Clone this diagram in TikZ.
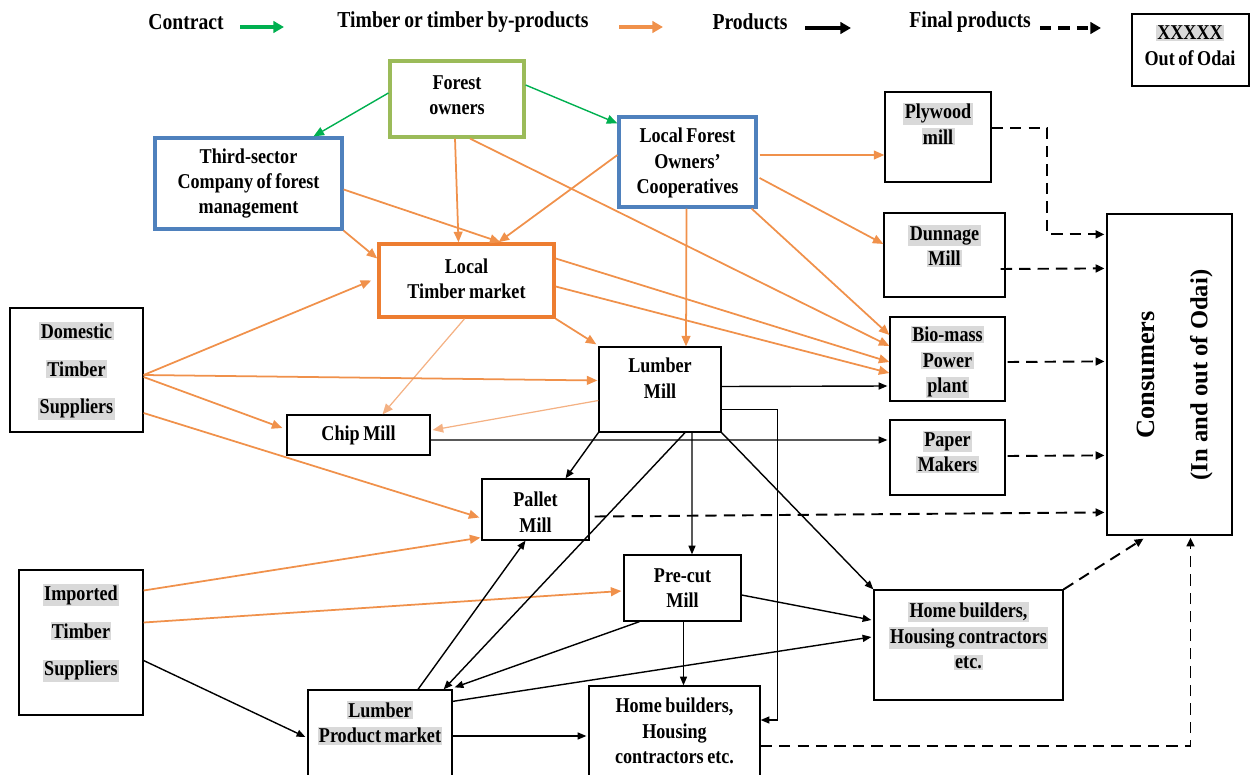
\documentclass[tikz,border=0pt]{standalone}
\usepackage{fontspec}
\setmainfont{Liberation Serif}[FakeStretch=0.86,WordSpace=0.8]
\newfontfamily\widefont{Liberation Serif}
\usetikzlibrary{arrows.meta,calc,fit,positioning}

\definecolor{cgreen}{RGB}{0,176,80}
\definecolor{cfgreen}{RGB}{155,187,89}
\definecolor{cblue}{RGB}{79,129,189}
\definecolor{ctimber}{RGB}{237,125,49}
\definecolor{corange}{RGB}{240,145,75}
\definecolor{corangelt}{RGB}{244,177,131}
\definecolor{hlgray}{RGB}{217,217,217}

\newcommand\graybg[1]{{\setlength{\fboxsep}{0.8pt}\colorbox{hlgray}{#1}}}
\newcommand\nodefont{\fontsize{12}{14.5}\selectfont\bfseries}
\newcommand\legfont{\fontsize{13}{15}\selectfont\bfseries}

\tikzset{
  box/.style={draw, line width=0.7pt, inner sep=0pt},
  txt/.style={align=center, font=\nodefont, inner sep=0pt},
  legend/.style={font=\legfont, inner sep=0pt},
  contract/.style={draw=cgreen, line width=0.8pt, -{Triangle[length=6pt,width=5pt]}},
  timber/.style={draw=corange, line width=1pt, -{Triangle[length=6pt,width=5pt]}},
  timberthin/.style={draw=corangelt, line width=0.7pt, -{Triangle[length=6pt,width=5pt]}},
  product/.style={line width=0.8pt, -{Triangle[length=5pt,width=4pt]}},
  final/.style={line width=1.1pt, dash pattern=on 6.5pt off 4pt, -{Triangle[length=5pt,width=4.5pt]}},
  legarrow/.style={line width=2pt, -{Triangle[length=6pt,width=6.5pt]}},
}

\begin{document}
\begin{tikzpicture}[x=0.02cm, y=-0.02cm]
\useasboundingbox (0,0) rectangle (1250,774);

% legend
\node[legend] (lgcon) at (186,22) {Contract};
\node[legend] (lgtim) at (463,22) {Timber or timber by-products};
\node[legend] (lgpro) at (750,22) {Products};
\node[legend] (lgfin) at (970,22) {Final products};
\coordinate (lgc1) at (240,27); \coordinate (lgc2) at (284,27);
\coordinate (lgt1) at (619,27); \coordinate (lgt2) at (663,27);
\coordinate (lgp1) at (805,28); \coordinate (lgp2) at (851,28);
\coordinate (lgf1) at (1040,28); \coordinate (lgf2) at (1101,28);
\draw[contract, legarrow] (lgc1) -- (lgc2);
\draw[timber, legarrow] (lgt1) -- (lgt2);
\draw[product, legarrow] (lgp1) -- (lgp2);
\draw[final, legarrow] (lgf1) -- (lgf2);
\node[box, fit={(1132,14)(1249,86)}] (key) {};
\node[txt] (keyt) at (1190,45) {\graybg{XXXXX}\\Out of Odai};

% boxes
\node[box, draw=cfgreen, line width=1.8pt, fit={(390,61)(524,137)}] (fown) {};
\node[txt] (fownt) at (457,95) {Forest\\owners};
\node[box, draw=cblue, line width=1.8pt, fit={(155,138)(342,229)}] (third) {};
\node[txt] (thirdt) at (248.5,183.5) {Third-sector\\Company of forest\\management};
\node[box, draw=cblue, line width=1.8pt, fit={(619,117)(756,207)}] (coop) {};
\node[txt] (coopt) at (687.5,163) {Local Forest\\Owners’\\Cooperatives};
\node[box, draw=ctimber, line width=2pt, fit={(379,244)(554,317)}] (ltm) {};
\node[txt] (ltmt) at (466.5,279) {Local\\Timber market};
\node[box, fit={(885,92)(991,182)}] (ply) {};
\node[txt] (plyt) at (938,124) {\graybg{Plywood}\\\graybg{mill}};
\node[box, fit={(884,213)(1005,297)}] (dun) {};
\node[txt] (dunt) at (944.5,246) {\graybg{Dunnage}\\\graybg{Mill}};
\node[box, fit={(890,317)(1005,401)}] (bio) {};
\node[txt] (biot) at (947.5,362) {\graybg{Bio-mass}\\\graybg{Power}\\\graybg{plant}};
\node[box, fit={(890,420)(1005,495)}] (paper) {};
\node[txt] (papert) at (947.5,452) {\graybg{Paper}\\\graybg{Makers}};
\node[box, fit={(1107,214)(1232,535)}] (cons) {};
\node[rotate=90, align=center, inner sep=0pt, font=\widefont\fontsize{14}{16}\selectfont\bfseries] (const) at (1175,375) {{\fontsize{15}{16}\selectfont Consumers}\\[14pt](In and out of Odai)};
\node[box, fit={(10,308)(143,432)}] (dom) {};
\node[txt] (domt) at (76.5,371) {\graybg{Domestic}\\[7pt]\graybg{Timber}\\[7pt]\graybg{Suppliers}};
\node[box, fit={(287,415)(430,455)}] (chip) {};
\node[txt] (chipt) at (358.5,435) {Chip Mill};
\node[box, fit={(599,347)(721,432)}] (lmill) {};
\node[txt] (lmillt) at (660,378) {Lumber\\Mill};
\node[box, fit={(482,479)(589,540)}] (pallet) {};
\node[txt] (pallett) at (535.5,512) {Pallet\\Mill};
\node[box, fit={(624,555)(741,621)}] (precut) {};
\node[txt] (precutt) at (682.5,588) {Pre-cut\\Mill};
\node[box, fit={(874,590)(1063,700)}] (hbr) {};
\node[txt] (hbrt) at (968.5,636) {\graybg{Home builders,}\\\graybg{Housing contractors}\\\graybg{etc.}};
\node[box, fit={(19,570)(143,715)}] (imp) {};
\node[txt] (impt) at (81,633) {\graybg{Imported}\\[7pt]\graybg{Timber}\\[7pt]\graybg{Suppliers}};
\node[box, fit={(308,690)(452,780)}] (lpm) {};
\node[txt] (lpmt) at (380,723) {\graybg{Lumber}\\\graybg{Product market}};
\node[box, fit={(589,686)(760,780)}] (hbb) {};
\node[txt] (hbbt) at (674.5,731) {Home builders,\\Housing\\contractors etc.};

% contracts
\draw[contract] ($(fown.west)+(0,-6)$) -- ($(third.north)+(65,0)$);
\draw[contract] ($(fown.east)+(0,-14)$) -- ($(coop.north west)+(0,8)$);

% timber
\draw[timber] ($(fown.south)+(-2,0)$) -- ($(ltm.north)+(-8,0)$);
\draw[timber] ($(fown.south)+(13,0)$) -- ($(bio.west)+(0,-13)$);
\draw[timber] ($(third.east)+(0,6)$) -- ($(ltm.north)+(34,0)$);
\draw[timber] (third.south east) -- ($(ltm.west)+(0,-22)$);
\draw[timber] ($(coop.west)+(0,-7)$) -- ($(ltm.north)+(32,0)$);
\draw[timber] ($(coop.south)+(-1,0)$) -- ($(lmill.north)+(26,0)$);
\draw[timber] ($(coop.east)+(2,-7)$) -- ($(ply.west)+(0,18)$);
\draw[timber] ($(coop.east)+(2,16)$) -- ($(dun.west)+(0,-11)$);
\draw[timber] ($(coop.south east)+(-6,0)$) -- ($(bio.west)+(0,-24)$);
\draw[timber] ($(ltm.east)+(0,-22)$) -- ($(bio.west)+(0,3)$);
\draw[timber] ($(ltm.east)+(0,6)$) -- ($(bio.west)+(0,14)$);
\draw[timber] (ltm.south east) -- ($(lmill.north west)+(-2,-2)$);
\draw[timberthin] ($(ltm.south)+(-2,0)$) -- ($(chip.north)+(24,0)$);
\draw[timberthin] ($(lmill.west)+(0,11)$) -- ($(chip.east)+(2,-5)$);
\draw[timber] ($(dom.east)+(0,5)$) -- ($(ltm.west)+(-6,0)$);
\draw[timber] ($(dom.east)+(0,5)$) -- ($(lmill.west)+(-1,-9)$);
\draw[timber] ($(dom.east)+(0,7)$) -- ($(chip.west)+(-4,-7)$);
\draw[timber] ($(dom.east)+(0,43)$) -- ($(pallet.west)+(-2,8)$);
\draw[timber] ($(imp.east)+(0,-52)$) -- ($(pallet.south west)+(-1,-3)$);
\draw[timber] ($(imp.east)+(0,-20)$) -- ($(precut.west)+(-2,3)$);

% products
\draw[product] ($(lmill.east)+(0,-3)$) -- ($(bio.west)+(-2,27)$);
\draw[product] ($(chip.east)+(0,5)$) -- ($(paper.west)+(-2,-17.5)$);
\draw[product] ($(lmill.east)+(0,20)$) -| ($(hbb.east)+(17,-13)$) -- ($(hbb.east)+(0,-13)$);
\draw[product] (lmill.south west) -- ($(pallet.north)+(30,0)$);
\draw[product] ($(lmill.south)+(25,0)$) -- ($(lpm.north east)+(-9,0)$);
\draw[product] ($(lpm.north)+(38,0)$) -- ($(pallet.south)+(-10,0)$);
\draw[product] ($(lmill.south)+(32,0)$) -- ($(precut.north)+(9.5,0)$);
\draw[product] (lmill.south east) -- (hbr.north west);
\draw[product] ($(precut.south)+(-43,0)$) -- ($(lpm.north east)+(2,-2)$);
\draw[product] ($(lpm.north east)+(0,12)$) -- ($(hbr.west)+(-2,-8)$);
\draw[product] ($(precut.east)+(0,7)$) -- ($(hbr.west)+(-2,-25)$);
\draw[product] ($(precut.south)+(1,0)$) -- ($(hbb.north)+(9,0)$);
\draw[product] ($(imp.east)+(0,18)$) -- ($(lpm.west)+(-2,2)$);
\draw[product] ($(lpm.east)+(0,1)$) -- ($(hbb.west)+(-2,3)$);

% final products
\draw[final] ($(ply.east)+(0,-9)$) -| ($(cons.north west)+(-59,21)$) -- ($(cons.north west)+(-2,21)$);
\draw[final] ($(dun.east)+(-5,14)$) -- ($(cons.north west)+(-2,55)$);
\draw[final] ($(bio.east)+(2,3)$) -- ($(cons.north west)+(-2,148)$);
\draw[final] ($(paper.east)+(2,-1.5)$) -- ($(cons.north west)+(-2,242)$);
\draw[final] ($(pallet.east)+(5,7)$) -- ($(cons.north west)+(-2,299)$);
\draw[final] (hbr.north east) -- ($(cons.south)+(-26,3)$);
\draw[final] ($(hbb.east)+(0,13)$) -| ($(cons.south)+(21,2)$);
\end{tikzpicture}
\end{document}
